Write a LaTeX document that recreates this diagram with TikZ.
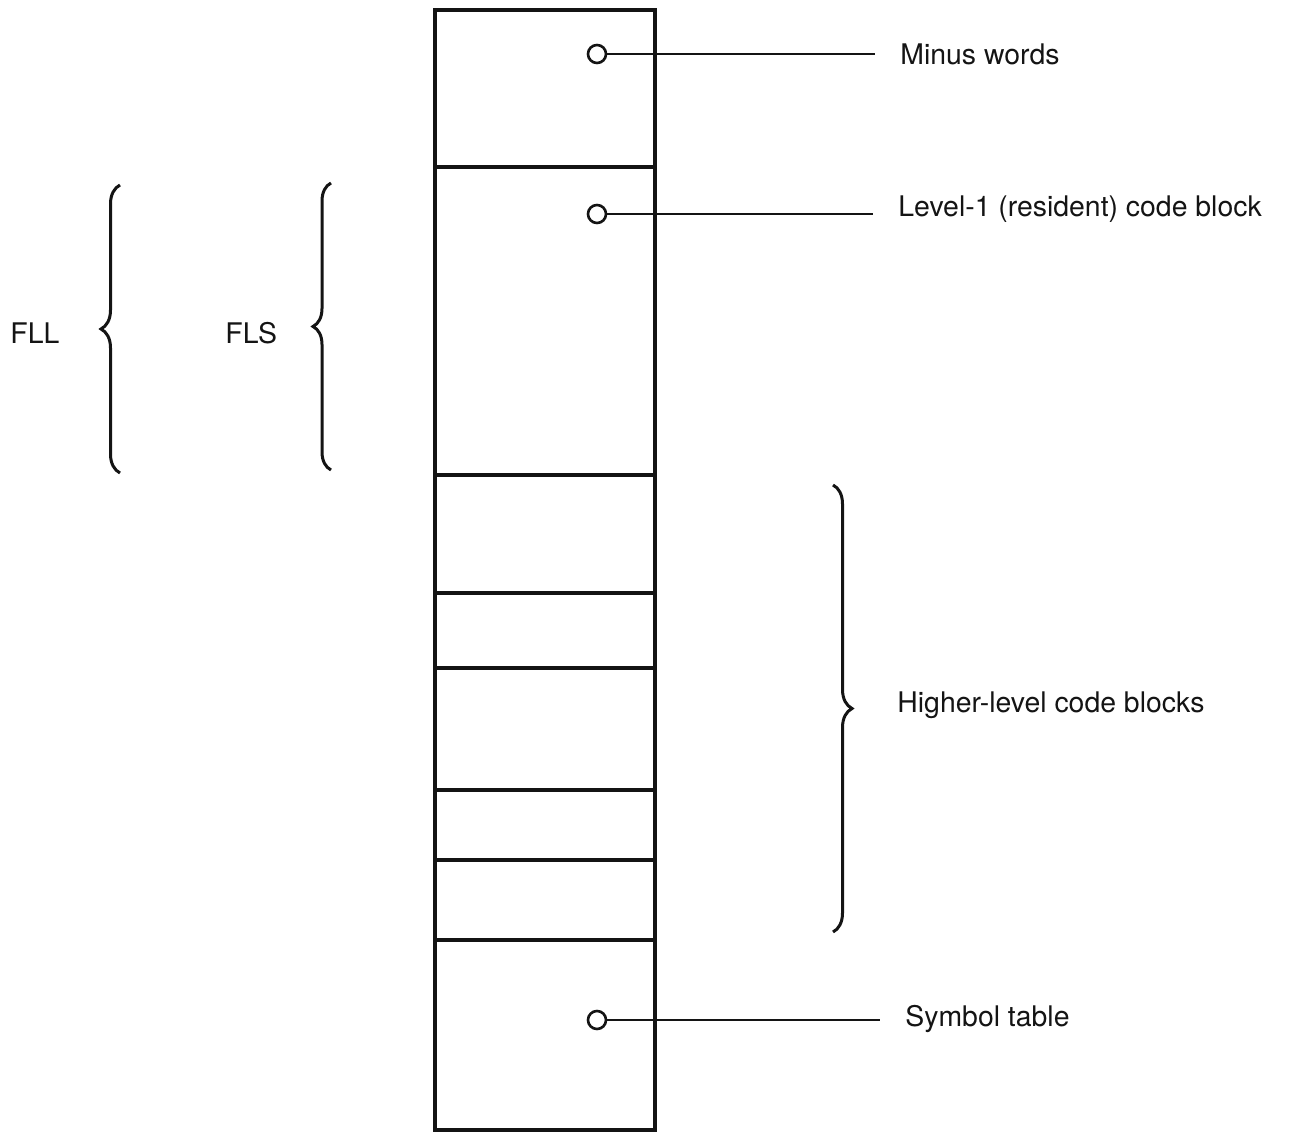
\documentclass[tikz,border=0pt]{standalone}
\usepackage{fontspec}
\setmainfont{TeX Gyre Heros}
\usepackage{tikz}
\usetikzlibrary{positioning, decorations.pathreplacing}
\definecolor{ink}{RGB}{20,20,20}
\tikzstyle{mblk}=[rectangle, draw=ink, line width=2.3pt, outer sep=0pt,
  minimum width=110pt, inner sep=0pt]
\tikzstyle{hole}=[circle, draw=ink, line width=1.3pt, fill=white,
  minimum size=9pt, inner sep=0pt]
\tikzstyle{ptr}=[line width=1.2pt, color=ink, shorten >=12.5pt]
\tikzstyle{lbl}=[font=\fontsize{14.2}{17}\selectfont, text=ink,
  inner sep=0pt, anchor=west]
\tikzstyle{brc}=[decorate, line width=1.5pt, color=ink]

\begin{document}
\begin{tikzpicture}[x=0.5pt, y=-0.5pt]
        \useasboundingbox (0,0) rectangle (1290,1133);
        % storage column
        \node[mblk, minimum height=78.5pt] (blk1) at (545,88.5) {};
        \node[mblk, minimum height=154pt]  (blk2) at (545,321) {};
        \node[mblk, minimum height=59pt]   (blk3) at (545,534) {};
        \node[mblk, minimum height=37.5pt] (blk4) at (545,630.5) {};
        \node[mblk, minimum height=61pt]   (blk5) at (545,729) {};
        \node[mblk, minimum height=35pt]   (blk6) at (545,825) {};
        \node[mblk, minimum height=40pt]   (blk7) at (545,900) {};
        \node[mblk, minimum height=95pt]   (blk8) at (545,1035) {};
        % pointers
        \node[hole] (c1) at (597,54) {};
        \node[hole] (c2) at (597,214) {};
        \node[hole] (c3) at (597,1020) {};
        \node[lbl] (m1) at (900,54) {Minus words};
        \node[lbl] (m2) at (898,209) {Level-1 (resident) code block};
        \node[lbl] (m3) at (905,1019) {Symbol table};
        \draw[ptr] (c1) -- (m1.west);
        \draw[ptr] (c2) -- (c2 -| m2.west);
        \draw[ptr] (c3) -- (c3 -| m3.west);
        % braces
        \coordinate (fllTop) at (120,185);
        \coordinate (fllBot) at (120,473);
        \coordinate (flsTop) at (331,183);
        \coordinate (flsBot) at (331,470);
        \coordinate (hlTop) at (833,485);
        \coordinate (hlBot) at (833,932);
        \draw[brc, decoration={brace, amplitude=9.5pt}] (fllBot) -- (fllTop);
        \draw[brc, decoration={brace, amplitude=9pt}] (flsBot) -- (flsTop);
        \draw[brc, decoration={brace, amplitude=9.5pt}] (hlTop) -- (hlBot);
        \node[lbl] (fll) at (10,333) {FLL};
        \node[lbl] (fls) at (225,333) {FLS};
        \node[lbl] (hl) at (897,705) {Higher-level code blocks};
      \end{tikzpicture}
\end{document}
